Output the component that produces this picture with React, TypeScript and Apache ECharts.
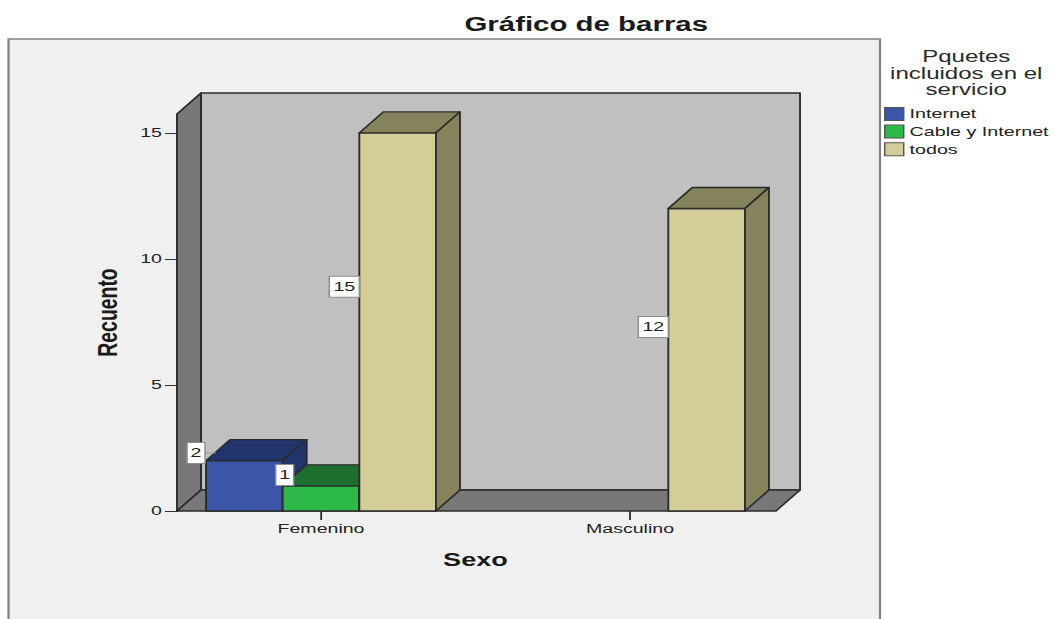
import React, { useEffect, useRef } from "react";
import * as echarts from "echarts";

const categories = ["Femenino", "Masculino"];
const seriesNames = ["Internet", "Cable y Internet", "todos"];
const internet = [2, null];
const cable = [1, null];
const todos = [15, 12];
const yTicks = [0, 5, 10, 15];
const axisMax = 15.75;

const SX = 1.45; // the reference picture is stretched horizontally
const W = 1054;
const H = 619;
const px = (x: number) => x / SX;

const FONT = "'Liberation Sans', Arial, sans-serif";
const DX = px(24);
const DY = -21;
const WALL_L = px(177);
const WALL_R = px(776);
const EDGE = "#2b2b2b";

const fills = ["#3b55a8", "#2db84a", "#d3ce97"];
const shades = ["#22346c", "#1e6e30", "#85835c"];
const seriesValues = [internet, cable, todos];

// where each value box sits: [series, category] -> value level and x shift
const boxLevel: Record<string, number> = { "0-0": 2.3, "1-0": 1.43, "2-0": 8.9, "2-1": 7.3 };
const boxShift: Record<string, number> = { "0-0": -1, "1-0": 11, "2-0": 0, "2-1": 0 };

function poly(points: number[][], fill: string) {
  return {
    type: "polygon",
    shape: { points },
    style: { fill, stroke: EDGE, lineWidth: 1.3, lineJoin: "round" },
  };
}

function barRender(s: number) {
  return (_p: any, api: any) => {
    const c = api.value(0);
    const v = api.value(1);
    const [cx, top] = api.coord([c, v]);
    const [, base] = api.coord([c, 0]);
    const barW = api.size([1, 0])[0] * 0.248;
    const l = cx - 1.5 * barW + s * barW;
    const r = l + barW;
    const key = `${s}-${c}`;
    const boxW = String(v).length > 1 ? px(30) : px(18);
    const boxX = l - boxW / 2 + px(boxShift[key]);
    const boxY = api.coord([c, boxLevel[key]])[1];
    const leader =
      boxShift[key] < 0
        ? [
            {
              type: "line",
              shape: { x1: boxX + boxW / 2, y1: boxY, x2: boxX + boxW / 2 + px(11), y2: boxY },
              style: { stroke: "#9a9a9a", lineWidth: 1 },
            },
          ]
        : [];
    return {
      type: "group",
      children: [
        poly([[l, base], [r, base], [r, top], [l, top]], fills[s]),
        poly([[l, top], [r, top], [r + DX, top + DY], [l + DX, top + DY]], shades[s]),
        poly([[r, base], [r + DX, base + DY], [r + DX, top + DY], [r, top]], shades[s]),
        ...leader,
        {
          type: "rect",
          shape: { x: boxX - boxW / 2, y: boxY - 10.5, width: boxW, height: 21 },
          style: { fill: "#ffffff", stroke: "#8c8c8c", lineWidth: 1 },
        },
        {
          type: "text",
          style: {
            text: String(v),
            x: boxX,
            y: boxY,
            align: "center",
            verticalAlign: "middle",
            fontSize: 13.5,
            fontFamily: FONT,
            fill: "#222222",
          },
        },
      ],
    };
  };
}

function wallRender(_p: any, api: any) {
  const y0 = api.coord([0, 0])[1];
  const y1 = api.coord([0, axisMax])[1];
  return {
    type: "group",
    children: [
      poly([[WALL_L + DX, y0 + DY], [WALL_R + DX, y0 + DY], [WALL_R + DX, y1 + DY], [WALL_L + DX, y1 + DY]], "#c0c0c0"),
      poly([[WALL_L, y0], [WALL_L + DX, y0 + DY], [WALL_L + DX, y1 + DY], [WALL_L, y1]], "#787878"),
      poly([[WALL_L, y0], [WALL_R, y0], [WALL_R + DX, y0 + DY], [WALL_L + DX, y0 + DY]], "#787878"),
    ],
  };
}

export default function App() {
  const ref = useRef<HTMLDivElement>(null);

  useEffect(() => {
    const chart = echarts.init(ref.current!, null, { renderer: "svg" });
    const axisText = { fontSize: 13.5, fontFamily: FONT, color: "#222222" };
    const option: any = {
      animation: false,
      backgroundColor: "#ffffff",
      title: [
        {
          text: "Gráfico de barras",
          left: px(579),
          top: 9,
          textAlign: "center",
          textStyle: { fontSize: 20.3, fontWeight: "bold", fontFamily: FONT, color: "#1a1a1a" },
        },
        {
          text: "Pquetes\nincluidos en el\nservicio",
          left: px(959),
          top: 43,
          textAlign: "center",
          textStyle: { fontSize: 16.6, lineHeight: 16.5, fontWeight: "normal", fontFamily: FONT, color: "#2a2a2a" },
        },
      ],
      legend: {
        left: px(884),
        top: 107,
        padding: 0,
        orient: "vertical",
        itemWidth: px(19),
        itemHeight: 13,
        itemGap: 3.6,
        icon: "rect",
        data: seriesNames.map((name, i) => ({
          name,
          icon: "rect",
          itemStyle: { color: fills[i], borderColor: "#555555", borderWidth: 1 },
        })),
        textStyle: { fontSize: 13.6, fontFamily: FONT, color: "#222222", padding: [0, 0, 0, -1] },
      },
      graphic: [
        {
          type: "rect",
          z: -10,
          silent: true,
          shape: { x: px(8.5), y: 39, width: px(871.5), height: 640 },
          style: { fill: "#f0f0f0", stroke: "#808080", lineWidth: 1.5 },
        },
      ],
      grid: { left: px(166.5), width: px(618), top: 114, height: 397 },
      xAxis: {
        type: "category",
        data: categories,
        name: "Sexo",
        nameLocation: "middle",
        nameGap: 39,
        nameTextStyle: { fontSize: 18.7, fontWeight: "bold", fontFamily: FONT, color: "#1a1a1a" },
        axisLine: { show: true, lineStyle: { color: "#000000", opacity: 0 } },
        axisTick: { show: true, alignWithLabel: true, length: 9, lineStyle: { color: "#222222", width: 1.2, opacity: 1 } },
        axisLabel: { ...axisText, margin: 11 },
        splitLine: { show: false },
      },
      yAxis: {
        type: "value",
        min: 0,
        max: axisMax,
        interval: 5,
        offset: -(px(177) - px(166.5)),
        name: "Recuento",
        nameLocation: "middle",
        nameGap: 39,
        nameTextStyle: { fontSize: 19.4, fontWeight: "bold", fontFamily: FONT, color: "#1a1a1a" },
        axisLine: { show: true, lineStyle: { color: EDGE, width: 1.3 } },
        axisTick: { show: true, length: px(12), customValues: yTicks, lineStyle: { color: "#333333", width: 1 } },
        axisLabel: { ...axisText, margin: px(15), customValues: yTicks },
        splitLine: { show: false },
      },
      series: [
        {
          type: "custom",
          name: "walls",
          z: 1,
          silent: true,
          clip: false,
          data: [[0, 0]],
          encode: { x: 0, y: 1 },
          renderItem: wallRender,
        },
        ...seriesNames.map((name, s) => ({
          type: "custom",
          name,
          z: 3 + s,
          clip: false,
          itemStyle: { color: fills[s] },
          data: seriesValues[s]
            .map((v, c) => [c, v])
            .filter((d) => d[1] !== null),
          encode: { x: 0, y: 1 },
          renderItem: barRender(s),
        })),
      ],
    };
    chart.setOption(option);
    return () => chart.dispose();
  }, []);

  return (
    <div
      ref={ref}
      style={{
        position: "absolute",
        left: 0,
        top: 0,
        width: W / SX,
        height: H,
        transform: `scaleX(${SX})`,
        transformOrigin: "0 0",
      }}
    />
  );
}
